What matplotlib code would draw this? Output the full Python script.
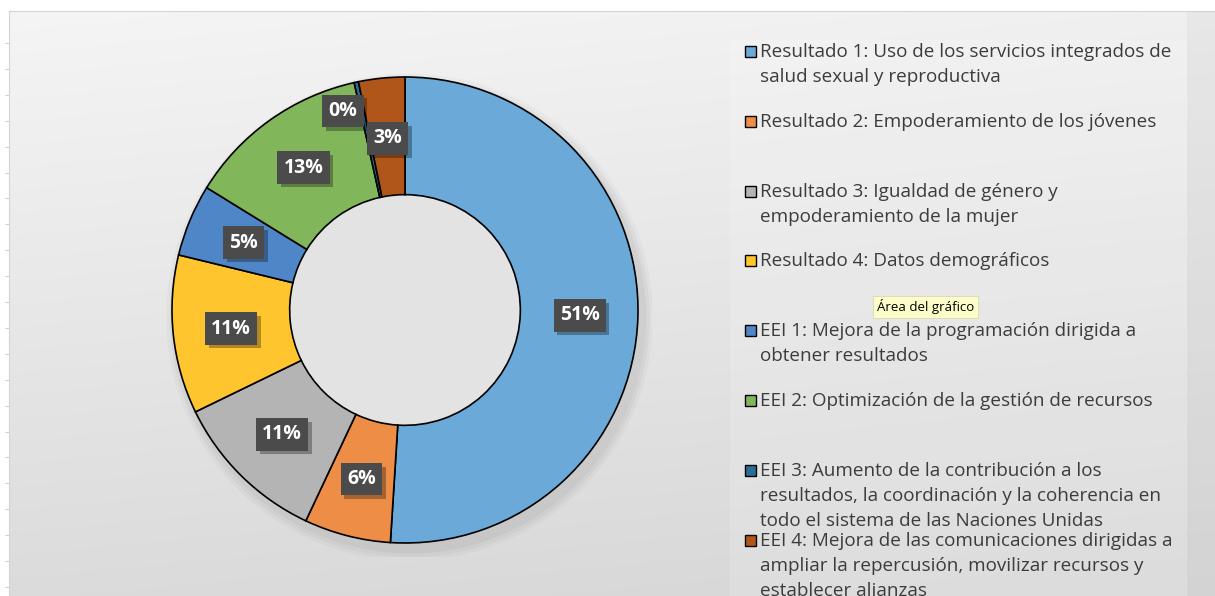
import numpy as np
import matplotlib
matplotlib.use('Agg')
import matplotlib.pyplot as plt
from matplotlib.patches import Rectangle
import matplotlib.patheffects as pe

# Data
labels = [
    'Resultado 1: Uso de los servicios integrados de\nsalud sexual y reproductiva',
    'Resultado 2: Empoderamiento de los jóvenes',
    'Resultado 3: Igualdad de género y\nempoderamiento de la mujer',
    'Resultado 4: Datos demográficos',
    'EEI 1: Mejora de la programación dirigida a\nobtener resultados',
    'EEI 2: Optimización de la gestión de recursos',
    'EEI 3: Aumento de la contribución a los\nresultados, la coordinación y la coherencia en\ntodo el sistema de las Naciones Unidas',
    'EEI 4: Mejora de las comunicaciones dirigidas a\nampliar la repercusión, movilizar recursos y\nestablecer alianzas',
]
values = [51.0, 6.0, 10.8, 11.0, 5.0, 12.7, 0.3, 3.2]
colors = ['#6aa9d8', '#ee8d45', '#b4b4b4', '#fec52e', '#4f86c8', '#81b65a', '#2b6c98', '#b1561b']

font = 'Open Sans'
W, H = 1215, 596
fig = plt.figure(figsize=(W / 100, H / 100), dpi=100)
fig.patch.set_facecolor('white')

# Background gradient (chart area)
bg_ax = fig.add_axes([9 / W, 0, 1 - 9 / W, (H - 11) / H])
yy, xx = np.mgrid[0:1:200j, 0:1:200j]
shade = 0.96 - 0.10 * yy - 0.02 * xx
bg_ax.imshow(np.dstack([shade] * 3), extent=[0, 1, 0, 1], aspect='auto', origin='upper')
lx0 = (730 - 9) / (W - 9)
lx1 = (1187 - 9) / (W - 9)
ly1 = 1 - (40 - 11) / (H - 11)
bg_ax.add_patch(Rectangle((lx0, 0), lx1 - lx0, ly1, facecolor='white', alpha=0.15, lw=0))
bg_ax.add_patch(Rectangle((lx1, 0), 1 - lx1, 1, facecolor='#c8c8c8', alpha=0.2, lw=0))
bg_ax.set_xlim(0, 1)
bg_ax.set_ylim(0, 1)
bg_ax.set_xticks([])
bg_ax.set_yticks(np.arange(1 - 32 / 585, 0, -25.9 / 585))
bg_ax.tick_params(axis='y', length=3, color='#cfcfcf', labelleft=False, direction='out')
for s in ['right', 'bottom']:
    bg_ax.spines[s].set_visible(False)
bg_ax.spines['top'].set_color('#d4d4d4')
bg_ax.spines['left'].set_color('#d4d4d4')

# Donut
cx, cy, R = 405, H - 310, 233
lim = 1.06
ax = fig.add_axes([(cx - R * lim) / W, (cy - R * lim) / H, 2 * R * lim / W, 2 * R * lim / H])
ax.set_facecolor('none')
# soft shadow
for k, a in enumerate([0.035, 0.03, 0.025]):
    ax.add_patch(plt.Circle((0.02, -0.03), 1.0 + 0.015 * (k + 1), color='black', alpha=a, lw=0, zorder=0))
wedges, _ = ax.pie(values, colors=colors, startangle=90, counterclock=False, radius=1.0,
                   wedgeprops=dict(width=0.505, edgecolor='black', linewidth=1.2))
ax.add_patch(plt.Circle((0, 0), 0.495, color='#e3e3e3', lw=0, zorder=0.5))
ax.set_xlim(-lim, lim)
ax.set_ylim(-lim, lim)
ax.set_position([(cx - R * lim) / W, (cy - R * lim) / H, 2 * R * lim / W, 2 * R * lim / H])
ax.axis('off')

# percentage labels
nudges = {6: (-0.11, 0.12), 7: (0.0, -0.01)}
for i, (w, v) in enumerate(zip(wedges, values)):
    ang = np.deg2rad((w.theta1 + w.theta2) / 2)
    r = 0.75
    x, y = r * np.cos(ang), r * np.sin(ang)
    dx, dy = nudges.get(i, (0, 0))
    t = ax.text(x + dx, y + dy, f'{v:.0f}%', ha='center', va='center', fontsize=14,
                fontweight='bold', family=font, color='white', zorder=5,
                bbox=dict(boxstyle='square,pad=0.32', facecolor='#4b4b4b', lw=0))
    t.get_bbox_patch().set_path_effects([
        pe.SimplePatchShadow(offset=(2.5, -2.5), shadow_rgbFace='black', alpha=0.3), pe.Normal()])

# Legend (drawn manually to keep Excel's fixed spacing)
top = 52
step = 69.8
for i, (lab, c) in enumerate(zip(labels, colors)):
    ypx = top + i * step
    fig.patches.append(Rectangle((745 / W, 1 - (ypx + 5) / H), 11 / W, 11 / H,
                                 transform=fig.transFigure, facecolor=c, edgecolor='black', lw=1.0))
    fig.text(760 / W, 1 - (ypx - 9) / H, lab, ha='left', va='top', fontsize=13.6,
             family=font, color='#3c3c3c', linespacing=1.52)

# tooltip
fig.text(877 / W, 1 - 307 / H, 'Área del gráfico', ha='left', va='center', fontsize=9.5,
         family=font, color='black',
         bbox=dict(boxstyle='square,pad=0.3', facecolor='#fdfdc9', edgecolor='#d8d8b0', lw=0.6))

fig.savefig('out.png', dpi=100)
